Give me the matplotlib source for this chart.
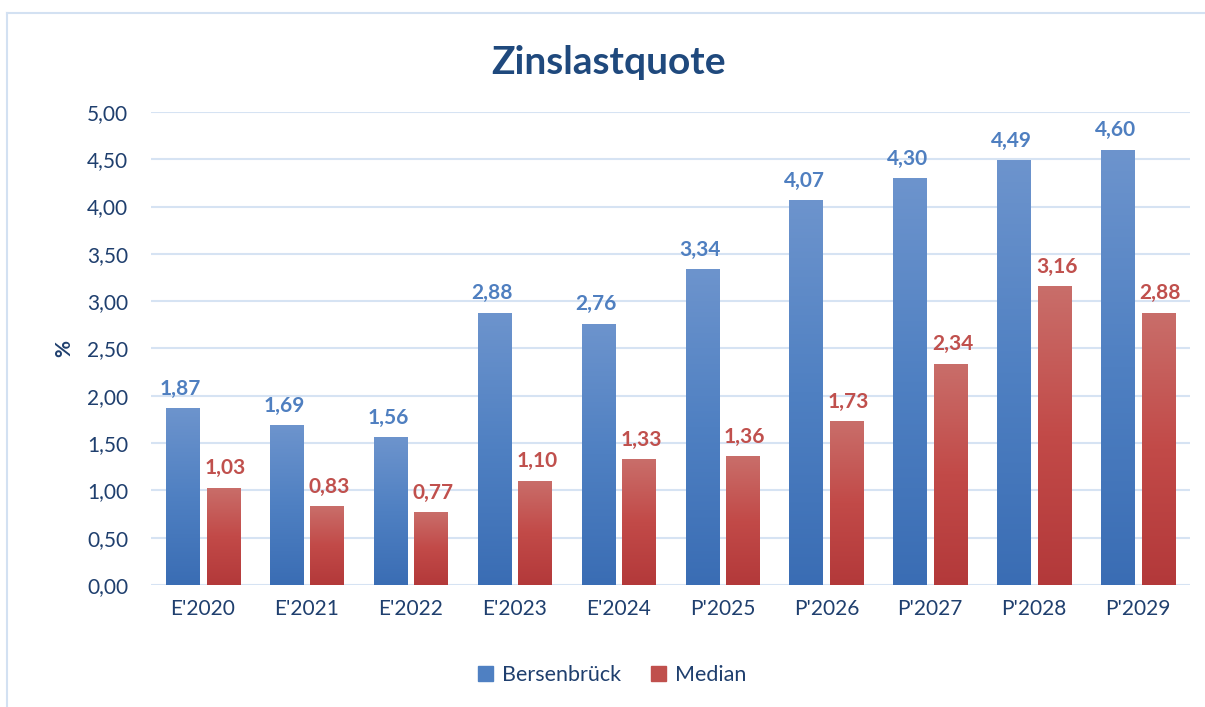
import matplotlib
matplotlib.use("Agg")
import matplotlib.pyplot as plt
import numpy as np
from matplotlib.colors import LinearSegmentedColormap
from matplotlib.patches import Rectangle
from matplotlib.lines import Line2D

categories = ["E'2020", "E'2021", "E'2022", "E'2023", "E'2024",
              "P'2025", "P'2026", "P'2027", "P'2028", "P'2029"]
bersenbrueck = [1.87, 1.69, 1.56, 2.88, 2.76, 3.34, 4.07, 4.30, 4.49, 4.60]
median = [1.03, 0.83, 0.77, 1.10, 1.33, 1.36, 1.73, 2.34, 3.16, 2.88]

plt.rcParams['font.family'] = ['Lato', 'DejaVu Sans']
text_col = '#1f3f6e'

fig = plt.figure(figsize=(12.05, 7.07), dpi=100)
ax = fig.add_axes([0.1253, 0.1726, 0.8623, 0.669])

# frame lines (left and top only, the rest is cut off)
bx, by = 7.5 / 1205, 1 - 12.5 / 707
fig.lines.append(Line2D([bx, bx], [0, by], transform=fig.transFigure,
                        color='#d3e1f2', linewidth=1.5))
fig.lines.append(Line2D([bx, 1], [by, by], transform=fig.transFigure,
                        color='#d3e1f2', linewidth=1.5))

x = np.arange(len(categories))
w = 0.32
off = 0.195

blue_cmap = LinearSegmentedColormap.from_list('b', ['#3a6db4', '#4f80c2', '#6d94cd'])
red_cmap = LinearSegmentedColormap.from_list('r', ['#b3393a', '#c24a48', '#c96e6a'])

grad = np.linspace(0, 1, 256).reshape(-1, 1)

def gradient_bars(xs, vals, cmap, color):
    bars = ax.bar(xs, vals, w, color=color, zorder=2)
    for b in bars:
        b.set_facecolor('none')
        b.set_edgecolor('none')
        x0 = b.get_x()
        im = ax.imshow(grad, cmap=cmap, origin='lower', aspect='auto',
                       extent=[x0, x0 + b.get_width(), 0, b.get_height()], zorder=2)
        im.set_clip_path(b)
    return bars

b1 = gradient_bars(x - off, bersenbrueck, blue_cmap, '#4f80c2')
b2 = gradient_bars(x + off, median, red_cmap, '#c0504d')

for xi, v in zip(x - off, bersenbrueck):
    ax.text(xi - 0.02, v + 0.1, f"{v:.2f}".replace('.', ','), ha='center', va='bottom',
            fontsize=15, fontweight='bold', color='#4f7fc0')
for xi, v in zip(x + off, median):
    ax.text(xi + 0.02, v + 0.1, f"{v:.2f}".replace('.', ','), ha='center', va='bottom',
            fontsize=15, fontweight='bold', color='#c0504d')

ax.set_xlim(-0.5, len(categories) - 0.5)
ax.set_ylim(0, 5)
ax.set_yticks(np.arange(0, 5.01, 0.5))
ax.set_yticklabels([f"{t:.2f}".replace('.', ',') for t in np.arange(0, 5.01, 0.5)])
ax.set_xticks(x)
ax.set_xticklabels(categories)
ax.tick_params(axis='both', length=0, labelsize=15, colors=text_col)
ax.tick_params(axis='y', pad=16.5)
ax.tick_params(axis='x', pad=10)
ax.grid(axis='y', color='#d6e3f3', linewidth=1.5, zorder=0)
ax.set_axisbelow(True)
for s in ax.spines.values():
    s.set_visible(False)

ax.set_ylabel('%', fontsize=15, fontweight='bold', color=text_col, labelpad=9)
fig.text(0.505, 0.912, 'Zinslastquote', ha='center', va='center',
         fontsize=28, fontweight='bold', color='#1f497d')

handles = [Rectangle((0, 0), 1, 1, color='#4f80c2'), Rectangle((0, 0), 1, 1, color='#c0504d')]
fig.legend(handles, ['Bersenbrück', 'Median'], loc='center', bbox_to_anchor=(0.508, 0.045),
           ncol=2, frameon=False, fontsize=15.5, handlelength=0.7, handleheight=0.7,
           columnspacing=1.4, handletextpad=0.4, labelcolor=text_col)

fig.savefig('out.png', dpi=100)
